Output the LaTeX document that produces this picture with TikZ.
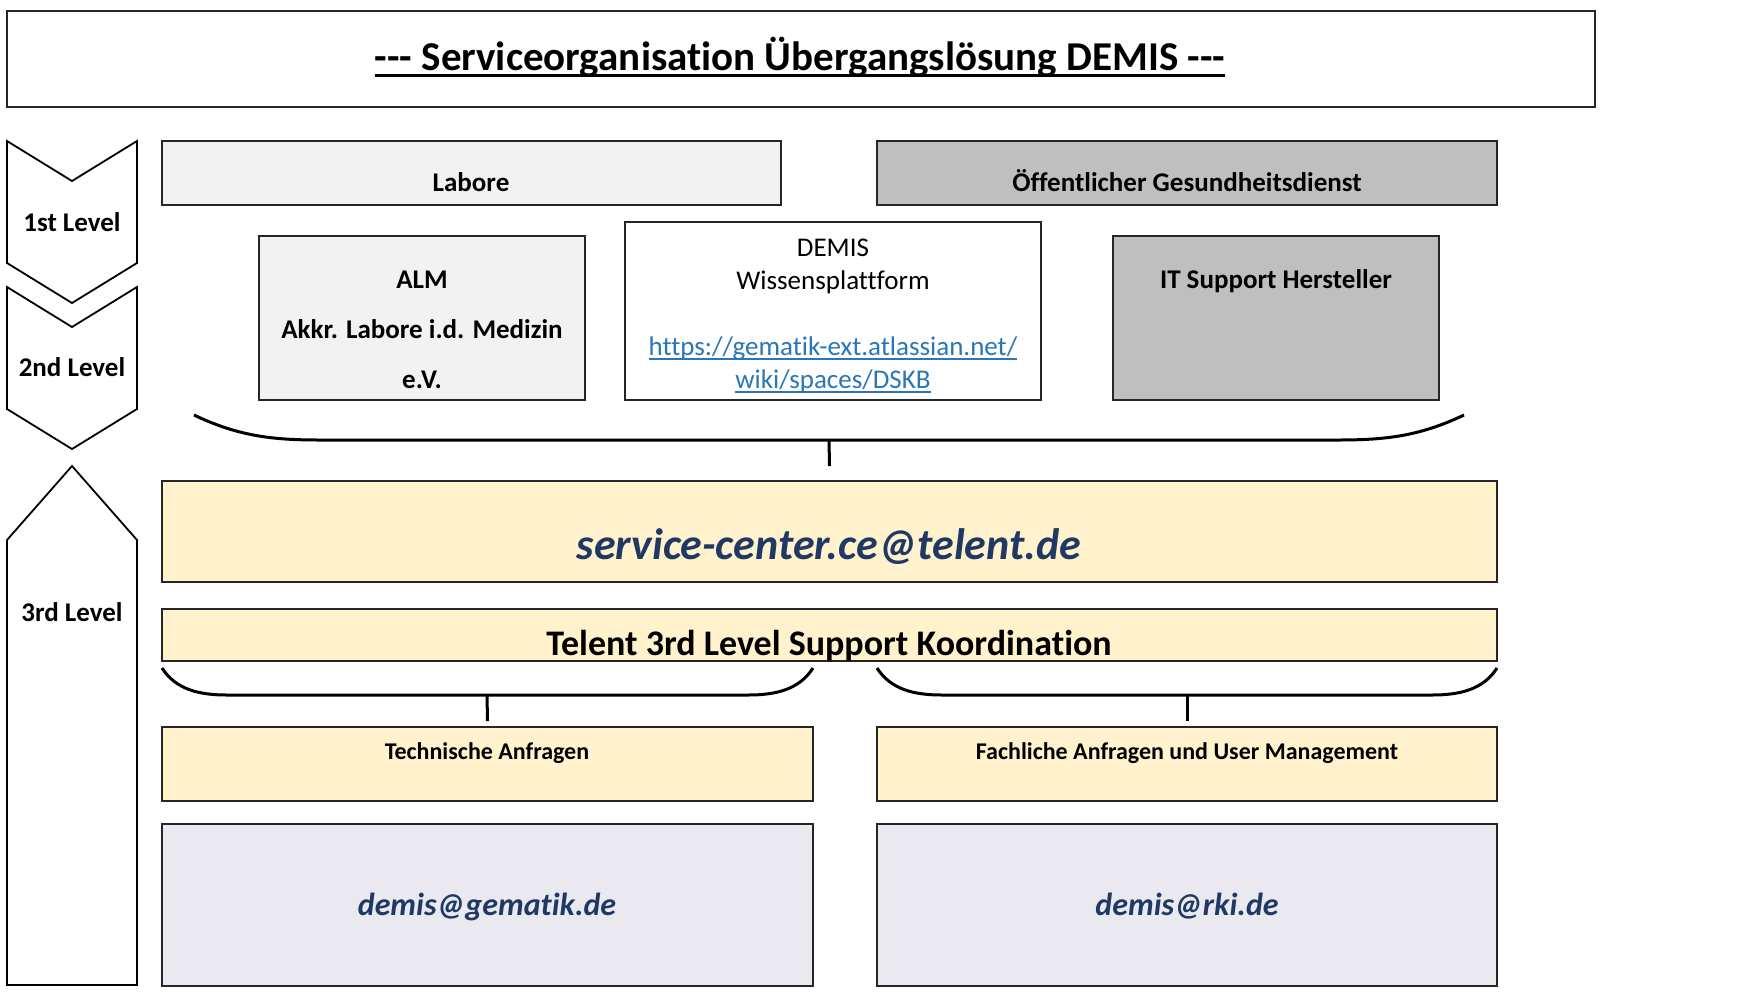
\documentclass[tikz,border=0pt]{standalone}
\usepackage{fontspec}
\setmainfont{Carlito}[Ligatures={NoCommon}]
\definecolor{lgray}{HTML}{F2F2F2}
\definecolor{mgray}{HTML}{BFBFBF}
\definecolor{cream}{HTML}{FFF2CC}
\definecolor{lav}{HTML}{EAE9F0}
\definecolor{navy}{HTML}{1F3864}
\definecolor{linkc}{HTML}{2B76B6}
\definecolor{edge}{HTML}{262626}
\newcommand{\myfs}[1]{\fontsize{#1}{#1}\selectfont}
\tikzset{
  bx/.style={draw=edge, line width=2pt, inner sep=0pt, outer sep=0pt, anchor=north west},
  lbl/.style={inner sep=0pt, anchor=base, align=center},
  bracel/.style={draw=black, line width=3pt},
  lvl/.style={draw=black, line width=1.8pt, fill=white, line join=miter},
  uline/.style={line width=#1},
}
\begin{document}
\begin{tikzpicture}[x=1pt,y=-1pt]
\useasboundingbox (0,0) rectangle (1737,994);
\fill[white] (0,0) rectangle (1737,994);

% title
\node[bx, fill=white, minimum width=1588pt, minimum height=96pt] (title) at (7,11) {};
\node[lbl] (titlet) at (800,70.5) {\myfs{41}\bfseries -{}-{}- Serviceorganisation Übergangslösung DEMIS -{}-{}-};
\draw[uline=3pt] ([yshift=-5pt]titlet.base west) -- ([yshift=-5pt]titlet.base east);

% level arrows
\draw[lvl] (7,141) -- (72,181) -- (137,141) -- (137,263) -- (72,303) -- (7,263) -- cycle;
\draw[lvl] (7,287) -- (72,327) -- (137,287) -- (137,409) -- (72,449) -- (7,409) -- cycle;
\draw[lvl] (72,466) -- (137,540) -- (137,985) -- (7,985) -- (7,540) -- cycle;
\node[lbl] (l1) at (72,231) {\myfs{27}\bfseries 1st Level};
\node[lbl] (l2) at (72,376) {\myfs{27}\bfseries 2nd Level};
\node[lbl] (l3) at (72,621) {\myfs{27}\bfseries 3rd Level};

% 1st level boxes
\node[bx, fill=lgray, minimum width=619pt, minimum height=64pt] (labore) at (162,141) {};
\node[lbl] (laboret) at (471,191) {\myfs{27}\bfseries Labore};
\node[bx, fill=mgray, minimum width=620pt, minimum height=64pt] (oegd) at (877,141) {};
\node[lbl] (oegdt) at (1187,191) {\myfs{27}\bfseries Öffentlicher Gesundheitsdienst};

% 2nd level boxes
\node[bx, fill=lgray, minimum width=326pt, minimum height=164pt] (alm) at (259,236) {};
\node[lbl] (almt1) at (422,288) {\myfs{27}\bfseries ALM};
\node[lbl] (almt2) at (422,338) {\myfs{27}\bfseries Akkr. Labore i.d. Medizin};
\node[lbl] (almt3) at (422,388) {\myfs{27}\bfseries e.V.};

\node[bx, fill=white, minimum width=416pt, minimum height=178pt] (demis) at (625,222) {};
\node[lbl] (demist1) at (833,256) {\myfs{27}DEMIS};
\node[lbl] (demist2) at (833,289) {\myfs{27}Wissensplattform};
\node[lbl] (demist3) at (833,355) {\myfs{27}\color{linkc}https://gematik-ext.atlassian.net/};
\node[lbl] (demist4) at (833,388) {\myfs{27}\color{linkc}wiki/spaces/DSKB};
\draw[uline=1.8pt, linkc] ([yshift=-4pt]demist3.base west) -- ([yshift=-4pt]demist3.base east);
\draw[uline=1.8pt, linkc] ([yshift=-4pt]demist4.base west) -- ([yshift=-4pt]demist4.base east);

\node[bx, fill=mgray, minimum width=326pt, minimum height=164pt] (it) at (1113,236) {};
\node[lbl] (itt) at (1276,288) {\myfs{27}\bfseries IT Support Hersteller};

% top brace
\coordinate (tb) at (829,440);
\draw[bracel] (194,415) .. controls (240,437) and (275,440) .. (321,440) -- (1337,440)
   .. controls (1383,440) and (1418,437) .. (1464,415);

% 3rd level boxes
\node[bx, fill=cream, minimum width=1335pt, minimum height=101pt] (svc) at (162,481) {};
\node[lbl] (svct) at (829,559) {\myfs{44}\bfseries\itshape\color{navy}service-center.ce@telent.de};
\draw[bracel] (tb) -- ([yshift=15pt]svc.north);

\node[bx, fill=cream, minimum width=1335pt, minimum height=52pt] (tel) at (162,609) {};
\node[lbl] (telt) at (829,655) {\myfs{36}\bfseries Telent 3rd Level Support Koordination};

% lower braces
\coordinate (lb) at (487,695);
\coordinate (rb) at (1187,695);
\draw[bracel] (162,668) .. controls (176,690) and (200,695) .. (227,695) -- (748,695)
   .. controls (775,695) and (799,690) .. (813,668);
\draw[bracel] (877,668) .. controls (891,690) and (915,695) .. (942,695) -- (1432,695)
   .. controls (1459,695) and (1483,690) .. (1497,668);

\node[bx, fill=cream, minimum width=651pt, minimum height=74pt] (tech) at (162,727) {};
\node[lbl] (techt) at (487,759) {\myfs{24}\bfseries Technische Anfragen};
\node[bx, fill=cream, minimum width=620pt, minimum height=74pt] (fach) at (877,727) {};
\node[lbl] (facht) at (1187,759) {\myfs{24}\bfseries Fachliche Anfragen und User Management};
\draw[bracel] (lb) -- ([yshift=6pt]tech.north);
\draw[bracel] (rb) -- ([yshift=6pt]fach.north);

\node[bx, fill=lav, minimum width=651pt, minimum height=162pt] (gem) at (162,824) {};
\node[lbl] (gemt) at (487,915) {\myfs{32}\bfseries\itshape\color{navy}demis@gematik.de};
\node[bx, fill=lav, minimum width=620pt, minimum height=162pt] (rki) at (877,824) {};
\node[lbl] (rkit) at (1187,915) {\myfs{32}\bfseries\itshape\color{navy}demis@rki.de};
\end{tikzpicture}
\end{document}
